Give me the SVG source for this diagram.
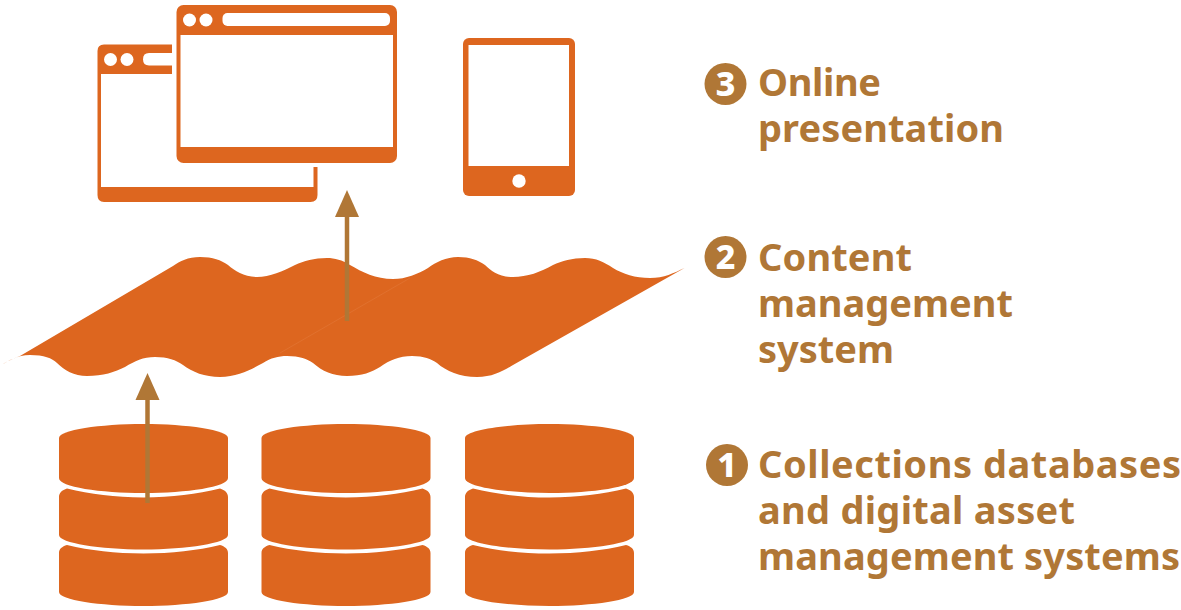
<svg xmlns="http://www.w3.org/2000/svg" xmlns:xlink="http://www.w3.org/1999/xlink" width="1181" height="610" viewBox="0 0 1181 610">
<style>
.o{fill:#DD661F}
.w{fill:#fff}
.b{fill:#B07736}
.t{font-family:"Noto Sans","Open Sans",sans-serif;font-weight:700;font-size:38px;fill:#B07736}
.n{font-family:"Noto Sans","Open Sans",sans-serif;font-weight:800;font-size:34px;fill:#fff;text-anchor:middle}
.s{stroke:#B07736;stroke-width:4.5;fill:none}
</style>
<defs>
<marker id="ah" markerUnits="userSpaceOnUse" markerWidth="28" markerHeight="30" refX="0" refY="13" orient="auto">
<path d="M0 1L27 13L0 25Z" fill="#B07736"/>
</marker>
<g id="db">
<path class="o" d="M59 438C59 430 100 424 143.500 424C187 424 228 430 228 438V478C228 487 187 493 143.500 493C100 493 59 487 59 478Z"/>
<path class="o" d="M59 497C59 493 62 490 67 488.500C90 494 115 497.500 143.500 497.500C172 497.500 197 494 220 488.500C225 490 228 493 228 497V535C228 543 187 549.500 143.500 549.500C100 549.500 59 543 59 535Z"/>
<path class="o" d="M59 553C59 549 62 546.500 67 545C90 550.500 115 553.500 143.500 553.500C172 553.500 197 550.500 220 545C225 546.500 228 549 228 553V592C228 600 187 606 143.500 606C100 606 59 600 59 592Z"/>
</g>
</defs>
<g id="window-back">
<path class="o" fill-rule="evenodd" d="M104 44.500H172V74H101V187H313.500V167H317.500V195Q317.500 202 310.500 202H104Q97.500 202 97.500 195V51Q97.500 44.500 104 44.500Z"/>
<circle class="w" cx="110.500" cy="59.500" r="6.500"/>
<circle class="w" cx="127" cy="59.500" r="6.500"/>
<path class="w" d="M149 53H172V65.500H149Q143 65.500 143 59.250Q143 53 149 53Z"/>
</g>
<g id="window-front">
<rect class="o" x="176.500" y="5" width="220.500" height="158" rx="7"/>
<rect class="w" x="180.500" y="35" width="212.500" height="112"/>
<circle class="w" cx="189.500" cy="20" r="6.500"/>
<circle class="w" cx="206" cy="20" r="6.500"/>
<rect class="w" x="222.500" y="13" width="167.500" height="13" rx="5"/>
</g>
<g id="tablet">
<rect class="o" x="463" y="38" width="112" height="158" rx="6"/>
<rect class="w" x="468.500" y="45" width="100.500" height="121"/>
<circle class="w" cx="519" cy="181" r="6.700"/>
</g>
<g id="cms">
<path class="o" d="M0 366C8 361 17 355 30 355C44 355 52 358 57 363C64 370 74 376 87 376C103 376 115 372 125 367C135 361 143 357 155 357C168 357 176 360 183 365C192 372 205 377 220 377C238 377 252 369 263 363C271 358 278 356 287 356C300 356 307 359 313 363C322 371 333 376 347 376C362 376 372 372 380 367C390 360 399 356 412 356C424 356 431 359 437 363C446 371 460 377 477 377C493 377 503 371 513 365L684.500 268C674 273 664 278 650 278C635 278 623 274 613 268C604 262 596 258 585 258C572 258 562 261 553 265C541 272 527 277 513 277C499 277 491 271 485 265C478 260 470 257 458 257C446 257 436 262 428 268C418 274 406 279 393 279C376 279 362 272 350 265C342 260 335 258 327 258C314 258 304 261 295 265C283 271 270 277 257 277C244 277 235 271 228 265C221 260 213 257 200 257C188 257 180 261 173 266L20 356C12 359 5 362 0 366Z"/>
<path d="M280 353L410 278" stroke="#E58045" stroke-width="0.400" fill="none"/>
</g>
<g id="databases">
<use id="db1" href="#db" xlink:href="#db"/>
<use id="db2" href="#db" xlink:href="#db" x="202.500"/>
<use id="db3" href="#db" xlink:href="#db" x="406"/>
</g>
<g id="connectors">
<path class="s" d="M147.500 503V400" marker-end="url(#ah)"/>
<path class="s" d="M347 321V217" marker-end="url(#ah)"/>
</g>
<g id="label-3">
<circle class="b" cx="725.500" cy="84" r="21"/>
<text class="n" x="725.500" y="96">3</text>
<text class="t" x="758" y="96" textLength="123" lengthAdjust="spacing">Online</text>
<text class="t" x="758" y="142" textLength="246" lengthAdjust="spacing">presentation</text>
</g>
<g id="label-2">
<circle class="b" cx="725.500" cy="257" r="21"/>
<text class="n" x="725.500" y="269">2</text>
<text class="t" x="758" y="270.500" textLength="154" lengthAdjust="spacing">Content</text>
<text class="t" x="758" y="316.500" textLength="255" lengthAdjust="spacing">management</text>
<text class="t" x="758" y="362.500" textLength="136" lengthAdjust="spacing">system</text>
</g>
<g id="label-1">
<circle class="b" cx="727" cy="465" r="21"/>
<text class="n" x="727" y="477">1</text>
<text class="t" x="758" y="477.500" textLength="423" lengthAdjust="spacing">Collections databases</text>
<text class="t" x="758" y="523.500" textLength="317" lengthAdjust="spacing">and digital asset</text>
<text class="t" x="758" y="569.500" textLength="422" lengthAdjust="spacing">management systems</text>
</g>
</svg>
